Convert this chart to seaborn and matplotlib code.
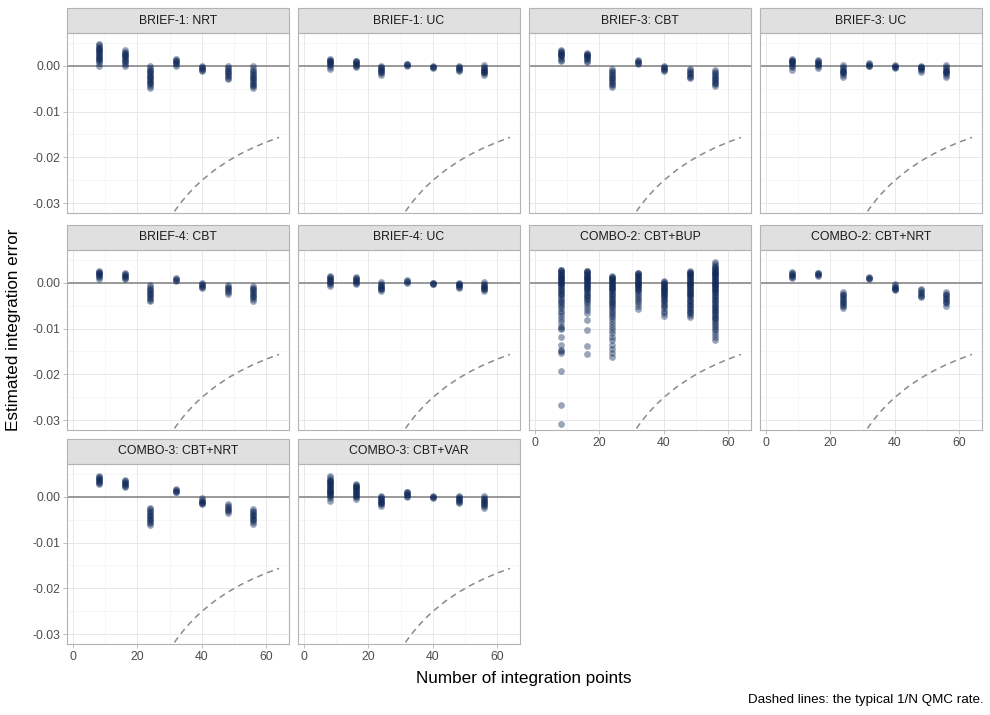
import numpy as np
import pandas as pd
import seaborn as sns
import matplotlib.pyplot as plt
from matplotlib.patches import Rectangle
from matplotlib.ticker import FixedLocator, FuncFormatter

sns.set_theme(style='white')
plt.rcParams['font.family'] = ['Liberation Sans', 'DejaVu Sans']
plt.rcParams['axes.unicode_minus'] = False

# number of integration points on the x axis
n_points = [8, 16, 24, 32, 40, 48, 56]

panel_names = ['BRIEF-1: NRT', 'BRIEF-1: UC', 'BRIEF-3: CBT', 'BRIEF-3: UC',
               'BRIEF-4: CBT', 'BRIEF-4: UC', 'COMBO-2: CBT+BUP', 'COMBO-2: CBT+NRT',
               'COMBO-3: CBT+NRT', 'COMBO-3: CBT+VAR']

# estimated errors, in units of 1e-4, one list per number of points
brief1_nrt = [
    [48, 44, 41, 38, 36, 34, 31, 29, 27, 24, 22, 19, 17, 14, 12, 9, 5, -1],
    [33, 30, 28, 25, 23, 21, 18, 16, 13, 11, 8, 4, 0],
    [-1, -6, -9, -12, -15, -17, -20, -22, -25, -27, -30, -33, -35, -38, -41, -44, -49],
    [14, 12, 10, 8, 6, 4, 0],
    [-1, -3, -5, -7, -9, -11],
    [-1, -5, -8, -11, -14, -17, -20, -23, -26, -30],
    [-1, -7, -12, -15, -18, -21, -24, -27, -30, -33, -36, -39, -42, -45, -49],
]
brief1_uc = [
    [15, 13, 11, 9, 7, 5, 3, 1, -3, -7],
    [11, 9, 7, 5, 3, 1, -1, -4],
    [0, -3, -5, -8, -10, -12, -14, -16, -20],
    [4, 3, 1, -1],
    [-1, -2, -4, -5],
    [-1, -3, -5, -7, -9, -12],
    [1, -2, -5, -7, -9, -11, -13, -15, -17, -20],
]
brief3_cbt = [
    [34, 32, 30, 28, 26, 24, 22, 20, 17, 13, 10],
    [28, 26, 24, 22, 20, 18, 16, 14, 11, 8],
    [-8, -12, -15, -18, -21, -24, -27, -30, -33, -36, -39, -42, -46],
    [12, 10, 8, 6, 4],
    [-1, -4, -6, -8, -10, -12],
    [-7, -10, -13, -16, -19, -22, -25, -28],
    [-9, -13, -17, -20, -23, -26, -29, -32, -35, -38, -41, -44],
]
brief3_uc = [
    [15, 13, 11, 9, 7, 5, 3, 0, -4, -9],
    [12, 10, 8, 6, 4, 2, -1, -5],
    [1, -3, -6, -9, -11, -13, -15, -17, -20, -25],
    [5, 4, 2, 0, -1],
    [1, -1, -2, -4, -6],
    [0, -2, -4, -6, -8, -10, -14],
    [1, -3, -6, -9, -11, -13, -15, -17, -20, -25],
]
brief4_cbt = [
    [25, 24, 22, 20, 18, 16, 14, 13, 8],
    [21, 19, 17, 15, 13, 11, 7],
    [-6, -10, -13, -16, -19, -22, -25, -28, -31, -34, -37, -41],
    [9, 8, 6, 4],
    [-1, -3, -5, -7, -9, -12],
    [-6, -9, -12, -15, -18, -21, -25],
    [-7, -11, -14, -17, -20, -23, -26, -29, -32, -35, -39],
]
brief4_uc = [
    [14, 12, 10, 8, 6, 4, 2, -1, -4, -7],
    [12, 10, 8, 6, 4, 2, 0, -3],
    [1, -2, -5, -7, -9, -11, -13, -15, -19],
    [5, 4, 2, 0],
    [0, -1, -2, -4],
    [0, -2, -4, -6, -8, -10, -12],
    [1, -2, -5, -7, -9, -11, -13, -15, -19],
]
combo2_cbt_bup = [
    [28, 27, 25, 23, 21, 19, 17, 15, 13, 11, 9, 7, 5, 3, 1, 0, -2, -4, -7, -10, -13, -16,
     -19, -22, -25, -28, -32, -35, -39, -43, -47, -51, -56, -61, -66, -72, -79, -86, -95,
     -99, -102, -119, -136, -147, -149, -154, -193, -266, -307],
    [26, 25, 23, 21, 19, 17, 15, 13, 11, 9, 7, 5, 3, 1, -1, -3, -5, -7, -9, -12, -14, -17,
     -20, -23, -26, -29, -32, -35, -37, -42, -47, -53, -59, -66, -82, -103, -138, -155],
    [15, 13, 11, 9, 7, 5, 3, 1, -1, -3, -5, -7, -9, -11, -13, -15, -18, -21, -24, -27, -30,
     -33, -36, -39, -42, -45, -48, -52, -55, -59, -64, -68, -73, -78, -84, -90, -96, -103,
     -110, -118, -126, -135, -145, -153, -163],
    [22, 20, 18, 16, 14, 12, 10, 8, 6, 4, 2, 0, -2, -4, -6, -8, -10, -12, -14, -16, -19,
     -23, -27, -31, -36, -41, -44, -51, -57],
    [3, 1, -1, -3, -5, -7, -9, -11, -13, -15, -17, -19, -21, -23, -25, -27, -29, -32, -35,
     -38, -41, -44, -48, -52, -56, -61, -66, -73],
    [26, 24, 22, 20, 18, 16, 14, 12, 10, 8, 6, 4, 2, 0, -2, -4, -6, -8, -10, -12, -14, -16,
     -18, -20, -22, -24, -26, -28, -31, -34, -37, -40, -43, -46, -49, -52, -55, -58, -61,
     -64, -67, -70, -74],
    [45, 40, 36, 34, 32, 30, 28, 26, 24, 22, 20, 18, 16, 14, 12, 10, 8, 6, 4, 2, 0, -2, -4,
     -6, -8, -10, -12, -14, -16, -18, -20, -23, -26, -29, -32, -35, -38, -41, -44, -47, -50,
     -53, -56, -59, -62, -65, -68, -71, -74, -77, -80, -84, -88, -92, -96, -101, -106, -112,
     -118, -124],
]
combo2_cbt_nrt = [
    [23, 21, 19, 17, 15, 13, 10],
    [22, 20, 18, 16, 14],
    [-21, -24, -27, -30, -33, -36, -39, -42, -45, -48, -51, -55],
    [12, 10, 9, 7],
    [-4, -7, -9, -11, -13, -15, -17],
    [-14, -17, -20, -23, -26, -29, -32],
    [-21, -24, -27, -30, -33, -36, -39, -42, -45, -50],
]
combo3_cbt_nrt = [
    [44, 42, 40, 38, 36, 34, 32, 30, 28],
    [36, 34, 32, 30, 28, 26, 24, 22],
    [-25, -28, -31, -34, -37, -40, -43, -46, -49, -52, -55, -58, -62],
    [17, 15, 13, 11, 9],
    [-4, -7, -9, -11, -13, -15, -17],
    [-17, -20, -23, -26, -29, -32, -36],
    [-28, -31, -34, -37, -40, -43, -46, -49, -52, -55, -59],
]
combo3_cbt_var = [
    [44, 40, 37, 35, 33, 31, 29, 27, 25, 23, 21, 19, 17, 15, 13, 11, 9, 7, 5, 3, 1, -3, -9],
    [28, 26, 24, 22, 20, 18, 16, 14, 12, 10, 8, 6, 4, 2, -1, -6],
    [2, -1, -3, -5, -7, -9, -11, -13, -15, -17, -20],
    [11, 9, 7, 5, 3, 1, -1],
    [2, 0, -1, -3],
    [1, -1, -3, -5, -7, -9, -11, -15],
    [1, -2, -5, -8, -10, -12, -14, -16, -18, -20, -24],
]

# the 1/N QMC reference rate (dashed lines)
rate_n = [28, 30, 32, 34, 36, 38, 40, 44, 48, 52, 56, 60, 64]
rate_err = [-0.03571, -0.03333, -0.03125, -0.02941, -0.02778, -0.02632, -0.02500,
            -0.02273, -0.02083, -0.01923, -0.01786, -0.01667, -0.01563]

panel_data = [brief1_nrt, brief1_uc, brief3_cbt, brief3_uc, brief4_cbt, brief4_uc,
              combo2_cbt_bup, combo2_cbt_nrt, combo3_cbt_nrt, combo3_cbt_var]

rows = []
for name, clusters in zip(panel_names, panel_data):
    for n, vals in zip(n_points, clusters):
        for v in vals:
            rows.append({'arm': name, 'n': n, 'error': v * 1e-4})
df = pd.DataFrame(rows)
rate_df = pd.DataFrame({'n': rate_n, 'error': rate_err})

W, H = 990, 715
fig = plt.figure(figsize=(W / 100, H / 100), dpi=100)

col_left = [67, 298, 529, 760]
row_top = [33, 250, 464]
pw, ph = 222, 180
strip_h = 25
navy = '#10295A'

for i, name in enumerate(panel_names):
    r, c = divmod(i, 4)
    ax = fig.add_axes([col_left[c] / W, 1 - (row_top[r] + ph) / H, pw / W, ph / H])
    ax.set_facecolor('white')

    ax.set_xlim(-1.9, 67.1)
    ax.set_ylim(-0.0321, 0.0071)
    ax.xaxis.set_major_locator(FixedLocator([0, 20, 40, 60]))
    ax.xaxis.set_minor_locator(FixedLocator([10, 30, 50]))
    ax.yaxis.set_major_locator(FixedLocator([0.0, -0.01, -0.02, -0.03]))
    ax.yaxis.set_minor_locator(FixedLocator([0.005, -0.005, -0.015, -0.025]))
    ax.yaxis.set_major_formatter(FuncFormatter(lambda v, p: '%.2f' % v))
    ax.grid(which='major', color='#E8E8E8', linewidth=0.7)
    ax.grid(which='minor', color='#F3F3F3', linewidth=0.5)
    ax.set_axisbelow(True)

    ax.axhline(0, color='#8A8A8A', linewidth=1.2, zorder=1.5)
    sns.lineplot(data=rate_df, x='n', y='error', ax=ax, color='#8A8A8A',
                 linewidth=1.1, dashes=False, linestyle=(0, (4, 3)), zorder=2)
    sub = df[df['arm'] == name]
    sns.scatterplot(data=sub, x='n', y='error', ax=ax, color=navy, alpha=0.42,
                    s=24, linewidth=0, zorder=3)
    ax.set_xlabel('')
    ax.set_ylabel('')

    for sp in ax.spines.values():
        sp.set_color('#B3B3B3')
        sp.set_linewidth(0.8)

    show_x = i >= 6
    show_y = c == 0
    ax.tick_params(axis='x', which='major', bottom=show_x, labelbottom=show_x,
                   length=3, width=0.6, color='#B3B3B3', labelsize=8.8,
                   labelcolor='#4D4D4D', pad=2)
    ax.tick_params(axis='y', which='major', left=show_y, labelleft=show_y,
                   length=3, width=0.6, color='#B3B3B3', labelsize=8.8,
                   labelcolor='#4D4D4D', pad=2)
    ax.tick_params(which='minor', length=0)

    # facet strip
    ax.add_patch(Rectangle((0, 1), 1, strip_h / ph, transform=ax.transAxes,
                           facecolor='#E0E0E0', edgecolor='#B3B3B3', linewidth=0.8,
                           clip_on=False))
    ax.text(0.5, 1 + strip_h / ph / 2, name, transform=ax.transAxes, ha='center',
            va='center', fontsize=8.8, color='#1A1A1A')

fig.text(524 / W, 1 - 678 / H, 'Number of integration points', ha='center',
         va='center', fontsize=12.3, color='black')
fig.text(14 / W, 1 - 330 / H, 'Estimated integration error', ha='center',
         va='center', rotation=90, fontsize=12.3, color='black')
fig.text(984 / W, 1 - 700 / H, 'Dashed lines: the typical 1/N QMC rate.', ha='right',
         va='center', fontsize=9.6, color='black')

fig.savefig('out.png', dpi=100)
